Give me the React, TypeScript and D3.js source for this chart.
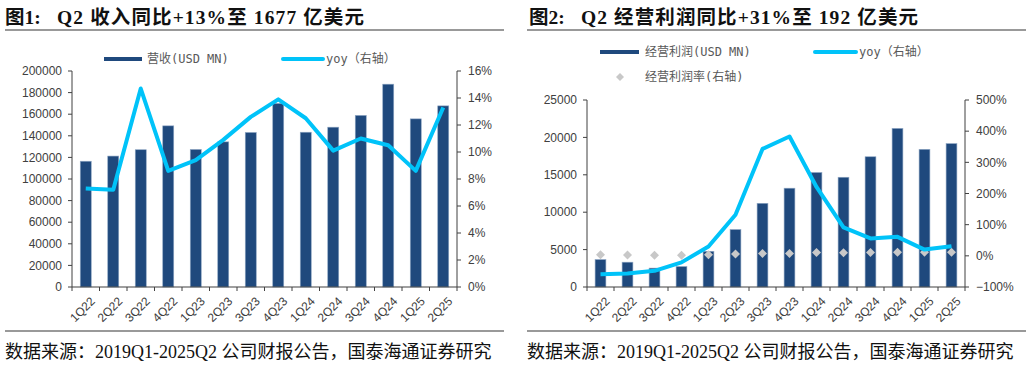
import React from 'react';
import * as d3 from 'd3';

const quarters = ['1Q22', '2Q22', '3Q22', '4Q22', '1Q23', '2Q23', '3Q23', '4Q23', '1Q24', '2Q24', '3Q24', '4Q24', '1Q25', '2Q25'];

// 图1 收入
const revenue = [116444, 121234, 127101, 149204, 127358, 134383, 143083, 169961, 143313, 147977, 158877, 187792, 155667, 167702];
const revenueYoy = [0.073, 0.072, 0.147, 0.086, 0.094, 0.109, 0.126, 0.139, 0.125, 0.101, 0.110, 0.105, 0.086, 0.133];

// 图2 经营利润
const opIncome = [3669, 3317, 2525, 2737, 4774, 7681, 11188, 13209, 15307, 14672, 17411, 21203, 18405, 19171];
const opIncomeYoy = [-0.59, -0.57, -0.48, -0.21, 0.30, 1.32, 3.43, 3.83, 2.21, 0.91, 0.56, 0.61, 0.20, 0.31];
const opMargin = [0.032, 0.027, 0.020, 0.018, 0.037, 0.057, 0.078, 0.078, 0.107, 0.099, 0.110, 0.113, 0.118, 0.114];

const revTicks = d3.range(0, 200001, 20000);
const revYoyTicks = d3.range(0, 0.161, 0.02);
const opTicks = d3.range(0, 25001, 5000);
const opYoyTicks = d3.range(-1, 5.01, 1);

const BAR = '#1f497d';
const LINE = '#00c3f9';
const AXIS = '#404040';
const LABEL = '#404040';
const sans = '"Liberation Sans", Arial, sans-serif';
const legendFont = '"DejaVu Sans Mono", "Noto Sans CJK SC", monospace';
const serif = '"Liberation Serif", "Noto Sans CJK SC", serif';

interface PanelProps {
  x0: number;
  x1: number;
  yTop: number;
  yBottom: number;
  bars: number[];
  leftMax: number;
  leftMin: number;
  leftTicks: number[];
  rightMin: number;
  rightMax: number;
  rightTicks: number[];
  line: number[];
  dots?: number[];
}

const Panel: React.FC<PanelProps> = ({ x0, x1, yTop, yBottom, bars, leftMin, leftMax, leftTicks, rightMin, rightMax, rightTicks, line, dots }) => {
  const x = d3.scaleBand().domain(quarters).range([x0, x1]).paddingInner(0.6).paddingOuter(0.3);
  const step = (x1 - x0) / quarters.length;
  const yL = d3.scaleLinear().domain([leftMin, leftMax]).range([yBottom, yTop]);
  const yR = d3.scaleLinear().domain([rightMin, rightMax]).range([yBottom, yTop]);
  const cx = (q: string) => (x(q) as number) + x.bandwidth() / 2;
  const pathD = d3.line<number>().x((_, i) => cx(quarters[i])).y(d => yR(d))(line) as string;
  const pctFmt = (d: number) => `${Math.round(d * 100)}%`;

  return (
    <g>
      {bars.map((v, i) => (
        <rect key={i} x={x(quarters[i])} y={yL(v)} width={x.bandwidth()} height={yL(0) - yL(v)}
          fill={BAR} stroke="#8ea6c4" strokeWidth={0.6} />
      ))}
      {dots && dots.map((v, i) => {
        const px = cx(quarters[i]);
        const py = yR(v);
        return <path key={i} d={`M${px},${py - 4.5}L${px + 4.5},${py}L${px},${py + 4.5}L${px - 4.5},${py}Z`} fill="#c8c8c8" />;
      })}
      <path d={pathD} fill="none" stroke={LINE} strokeWidth={4} strokeLinejoin="round" />
      {/* left axis */}
      <line x1={x0} x2={x0} y1={yTop} y2={yBottom} stroke={AXIS} />
      {leftTicks.map(t => (
        <g key={t}>
          <line x1={x0 - 4} x2={x0} y1={yL(t)} y2={yL(t)} stroke={AXIS} />
          <text x={x0 - 10} y={yL(t)} dy="0.35em" textAnchor="end" fontSize={12} fill={LABEL} fontFamily={sans}>{t}</text>
        </g>
      ))}
      {/* right axis */}
      <line x1={x1} x2={x1} y1={yTop} y2={yBottom} stroke={AXIS} />
      {rightTicks.map(t => (
        <g key={t}>
          <line x1={x1} x2={x1 + 4} y1={yR(t)} y2={yR(t)} stroke={AXIS} />
          <text x={x1 + 11} y={yR(t)} dy="0.35em" textAnchor="start" fontSize={12} fill={LABEL} fontFamily={sans}>
            {t < 0 ? `\u2212${pctFmt(-t)}` : pctFmt(t)}
          </text>
        </g>
      ))}
      {/* bottom axis */}
      <line x1={x0} x2={x1} y1={yBottom} y2={yBottom} stroke={AXIS} strokeWidth={1.2} />
      {d3.range(quarters.length + 1).map(i => (
        <line key={i} x1={x0 + i * step} x2={x0 + i * step} y1={yBottom} y2={yBottom + 4} stroke={AXIS} />
      ))}
      {quarters.map(q => (
        <text key={q} transform={`translate(${cx(q) + 4},${yBottom + 9}) rotate(-45)`} textAnchor="end" dy="0.7em"
          fontSize={12} fill={LABEL} fontFamily={sans}>{q}</text>
      ))}
    </g>
  );
};

export default function App() {
  return (
    <svg width={1032} height={367} style={{ position: 'absolute', left: 0, top: 0, background: '#fff' }}>
      <rect width={1032} height={367} fill="#fff" />
      {/* titles */}
      <text x={5} y={24} fontSize={19.5} fontWeight="bold" fontFamily={serif} fill="#111">
        <tspan>图1:</tspan><tspan x={57} textLength={307} lengthAdjust="spacing">Q2 收入同比+13%至 1677 亿美元</tspan>
      </text>
      <line x1={5} x2={504} y1={30} y2={30} stroke="#777" strokeWidth={1.5} />
      <text x={529} y={24} fontSize={19.5} fontWeight="bold" fontFamily={serif} fill="#111">
        <tspan>图2:</tspan><tspan x={581} textLength={337} lengthAdjust="spacing">Q2 经营利润同比+31%至 192 亿美元</tspan>
      </text>
      <line x1={527} x2={1026} y1={30} y2={30} stroke="#777" strokeWidth={1.5} />

      {/* legend 1 */}
      <rect x={104} y={57} width={38} height={4} fill={BAR} />
      <text x={147} y={59} dy="0.35em" fontSize={12} fill="#595959" fontFamily={legendFont}>营收(USD MN)</text>
      <line x1={283} x2={323} y1={59} y2={59} stroke={LINE} strokeWidth={4} strokeLinecap="round" />
      <text x={326} y={59} dy="0.35em" fontSize={12} fill="#595959" fontFamily={legendFont}>yoy（右轴）</text>

      {/* legend 2 */}
      <rect x={600} y={50} width={39} height={4} fill={BAR} />
      <text x={645} y={52} dy="0.35em" fontSize={12} fill="#595959" fontFamily={legendFont}>经营利润(USD MN)</text>
      <line x1={815} x2={856} y1={52} y2={52} stroke={LINE} strokeWidth={4} strokeLinecap="round" />
      <text x={859} y={52} dy="0.35em" fontSize={12} fill="#595959" fontFamily={legendFont}>yoy（右轴）</text>
      <path d="M620,73L624,77L620,81L616,77Z" fill="#c8c8c8" />
      <text x={645} y={77} dy="0.35em" fontSize={12} fill="#595959" fontFamily={legendFont}>经营利润率(右轴)</text>

      <Panel x0={72} x1={457} yTop={71} yBottom={287} bars={revenue} leftMin={0} leftMax={200000} leftTicks={revTicks}
        rightMin={0} rightMax={0.16} rightTicks={revYoyTicks} line={revenueYoy} />
      <Panel x0={587} x1={965} yTop={100} yBottom={287} bars={opIncome} leftMin={0} leftMax={25000} leftTicks={opTicks}
        rightMin={-1} rightMax={5} rightTicks={opYoyTicks} line={opIncomeYoy} dots={opMargin} />

      {/* footers */}
      <line x1={5} x2={504} y1={331} y2={331} stroke="#777" strokeWidth={1.5} />
      <line x1={527} x2={1026} y1={331} y2={331} stroke="#777" strokeWidth={1.5} />
      <text x={5} y={358} fontSize={18} fontFamily={serif} fill="#111">数据来源：2019Q1-2025Q2 公司财报公告，国泰海通证券研究</text>
      <text x={527} y={358} fontSize={18} fontFamily={serif} fill="#111">数据来源：2019Q1-2025Q2 公司财报公告，国泰海通证券研究</text>
    </svg>
  );
}
